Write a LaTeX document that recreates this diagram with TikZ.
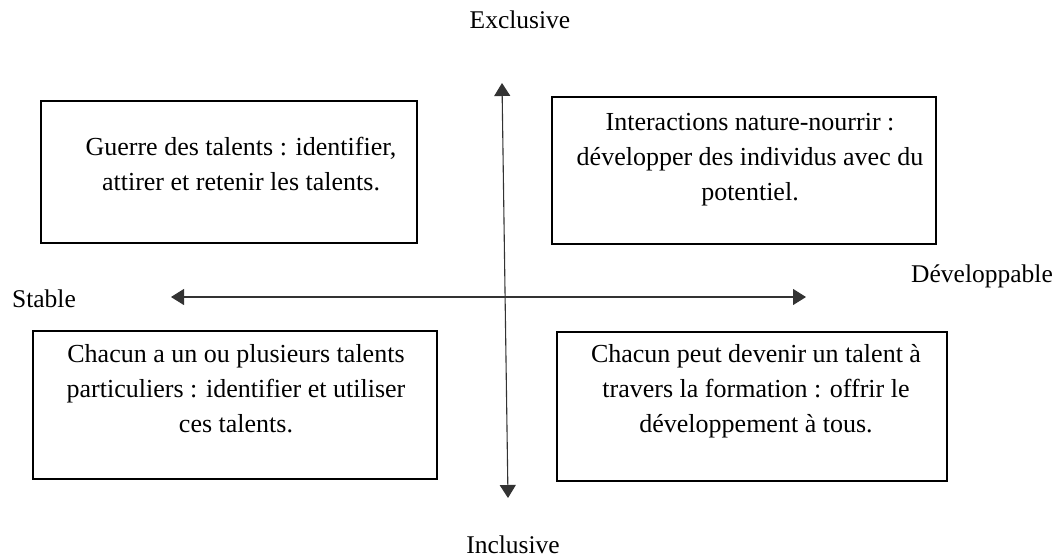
\documentclass[tikz,border=0pt]{standalone}
\usepackage{fontspec}
\setmainfont{Liberation Serif}
\usetikzlibrary{arrows.meta}
\begin{document}
\begin{tikzpicture}[x=1pt,y=-1pt,
  quad/.style={draw=black,line width=1.8pt,inner sep=0pt},
  txt/.style={align=center,inner sep=0pt,font=\fontsize{26}{35}\selectfont},
  lbl/.style={inner sep=0pt,font=\fontsize{25.5}{30}\selectfont},
  axis/.style={line width=1.1pt,draw=black!80,{Triangle[length=13pt,width=16pt]}-{Triangle[length=13pt,width=16pt]}}]
\useasboundingbox (0,0) rectangle (1062,558);
% boxes
\node[quad,minimum width=376pt,minimum height=142pt] (tl) at (229,172) {};
\node[quad,minimum width=384pt,minimum height=147pt] (tr) at (744,170.5) {};
\node[quad,minimum width=404pt,minimum height=148pt] (bl) at (235,405) {};
\node[quad,minimum width=390pt,minimum height=149pt] (br) at (752,406.5) {};
% box texts
\node[txt] (tlt) at (241,164) {Guerre des talents : identifier,\\attirer et retenir les talents.};
\node[txt] (trt) at (750,160) {Interactions nature-nourrir :\\développer des individus avec du\\potentiel.};
\node[txt] (blt) at (236,389) {Chacun a un ou plusieurs talents\\particuliers : identifier et utiliser\\ces talents.};
\node[txt] (brt) at (756,391) {Chacun peut devenir un talent à\\travers la formation : offrir le\\développement à tous.};
% axis labels
\node[lbl] (ex) at (520,20) {Exclusive};
\node[lbl] (in) at (513,545) {Inclusive};
\node[lbl] (st) at (44,299) {Stable};
\node[lbl] (de) at (982,276) {Développable};
% axes
\coordinate (vt) at (502,83);
\coordinate (vb) at (508,498);
\coordinate (hl) at (171,297);
\coordinate (hr) at (806,297);
\draw[axis] (vb) -- (vt);
\draw[axis] (hl) -- (hr);
\end{tikzpicture}
\end{document}
